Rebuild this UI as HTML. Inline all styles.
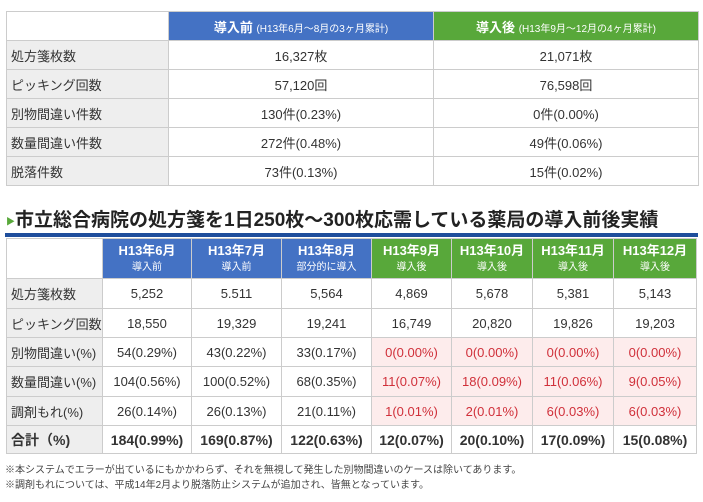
<!DOCTYPE html>
<html><head><meta charset="utf-8"><style>
body{margin:0;width:703px;height:502px;background:#fff;position:relative;overflow:hidden;font-family:"Liberation Sans","Noto Sans CJK JP",sans-serif;color:#333}
table{border-collapse:collapse;position:absolute;table-layout:fixed}
td,th{border:1px solid #ccc;padding:0;font-size:13px;text-align:center;font-weight:normal}
td.l{background:#eee;text-align:left;padding-left:4px}
th.b{background:#4472c4;color:#fff}
th.g{background:#58a83a;color:#fff}
th .s{font-size:10px}
td.p{background:#fdecec;color:#d0303a}
tr.t td{font-weight:bold;font-size:14px}
</style></head><body>
<table style="left:6px;top:11px;width:692px">
<colgroup><col style="width:162px"><col style="width:265px"><col style="width:265px"></colgroup>
<tr style="height:29px"><th style="border-color:#ccc"></th><th class="b"><b>導入前</b> <span class="s">(H13年6月～8月の3ヶ月累計)</span></th><th class="g"><b>導入後</b> <span class="s">(H13年9月～12月の4ヶ月累計)</span></th></tr>
<tr style="height:29px"><td class="l">処方箋枚数</td><td>16,327枚</td><td>21,071枚</td></tr>
<tr style="height:29px"><td class="l">ピッキング回数</td><td>57,120回</td><td>76,598回</td></tr>
<tr style="height:29px"><td class="l">別物間違い件数</td><td>130件(0.23%)</td><td>0件(0.00%)</td></tr>
<tr style="height:29px"><td class="l">数量間違い件数</td><td>272件(0.48%)</td><td>49件(0.06%)</td></tr>
<tr style="height:29px"><td class="l">脱落件数</td><td>73件(0.13%)</td><td>15件(0.02%)</td></tr>
</table>
<div style="position:absolute;left:6px;top:205px;font-size:19px;font-weight:bold;color:#222;white-space:nowrap"><span style="color:#58a83a;font-size:9px;vertical-align:middle">▶</span>市立総合病院の処方箋を1日250枚～300枚応需している薬局の導入前後実績</div>
<div style="position:absolute;left:5px;top:233px;width:693px;height:4px;background:#1f4e9c"></div>
<table style="left:6px;top:238px;width:690px">
<colgroup><col style="width:96px"><col style="width:89px"><col style="width:90px"><col style="width:90px"><col style="width:80px"><col style="width:81px"><col style="width:81px"><col style="width:83px"></colgroup>
<tr style="height:40px;line-height:15px"><th></th>
<th class="b"><b>H13年6月</b><br><span class="s">導入前</span></th>
<th class="b"><b>H13年7月</b><br><span class="s">導入前</span></th>
<th class="b"><b>H13年8月</b><br><span class="s">部分的に導入</span></th>
<th class="g"><b>H13年9月</b><br><span class="s">導入後</span></th>
<th class="g"><b>H13年10月</b><br><span class="s">導入後</span></th>
<th class="g"><b>H13年11月</b><br><span class="s">導入後</span></th>
<th class="g"><b>H13年12月</b><br><span class="s">導入後</span></th></tr>
<tr style="height:30px"><td class="l">処方箋枚数</td><td>5,252</td><td>5.511</td><td>5,564</td><td>4,869</td><td>5,678</td><td>5,381</td><td>5,143</td></tr>
<tr style="height:29px"><td class="l">ピッキング回数</td><td>18,550</td><td>19,329</td><td>19,241</td><td>16,749</td><td>20,820</td><td>19,826</td><td>19,203</td></tr>
<tr style="height:29px"><td class="l">別物間違い(%)</td><td>54(0.29%)</td><td>43(0.22%)</td><td>33(0.17%)</td><td class="p">0(0.00%)</td><td class="p">0(0.00%)</td><td class="p">0(0.00%)</td><td class="p">0(0.00%)</td></tr>
<tr style="height:30px"><td class="l">数量間違い(%)</td><td>104(0.56%)</td><td>100(0.52%)</td><td>68(0.35%)</td><td class="p">11(0.07%)</td><td class="p">18(0.09%)</td><td class="p">11(0.06%)</td><td class="p">9(0.05%)</td></tr>
<tr style="height:29px"><td class="l">調剤もれ(%)</td><td>26(0.14%)</td><td>26(0.13%)</td><td>21(0.11%)</td><td class="p">1(0.01%)</td><td class="p">2(0.01%)</td><td class="p">6(0.03%)</td><td class="p">6(0.03%)</td></tr>
<tr style="height:28px" class="t"><td class="l">合計（%)</td><td>184(0.99%)</td><td>169(0.87%)</td><td>122(0.63%)</td><td>12(0.07%)</td><td>20(0.10%)</td><td>17(0.09%)</td><td>15(0.08%)</td></tr>
</table>
<div style="position:absolute;left:5px;top:461px;font-size:10px;color:#444;white-space:nowrap">※本システムでエラーが出ているにもかかわらず、それを無視して発生した別物間違いのケースは除いてあります。</div>
<div style="position:absolute;left:5px;top:476px;font-size:10px;color:#444;white-space:nowrap">※調剤もれについては、平成14年2月より脱落防止システムが追加され、皆無となっています。</div>
</body></html>
